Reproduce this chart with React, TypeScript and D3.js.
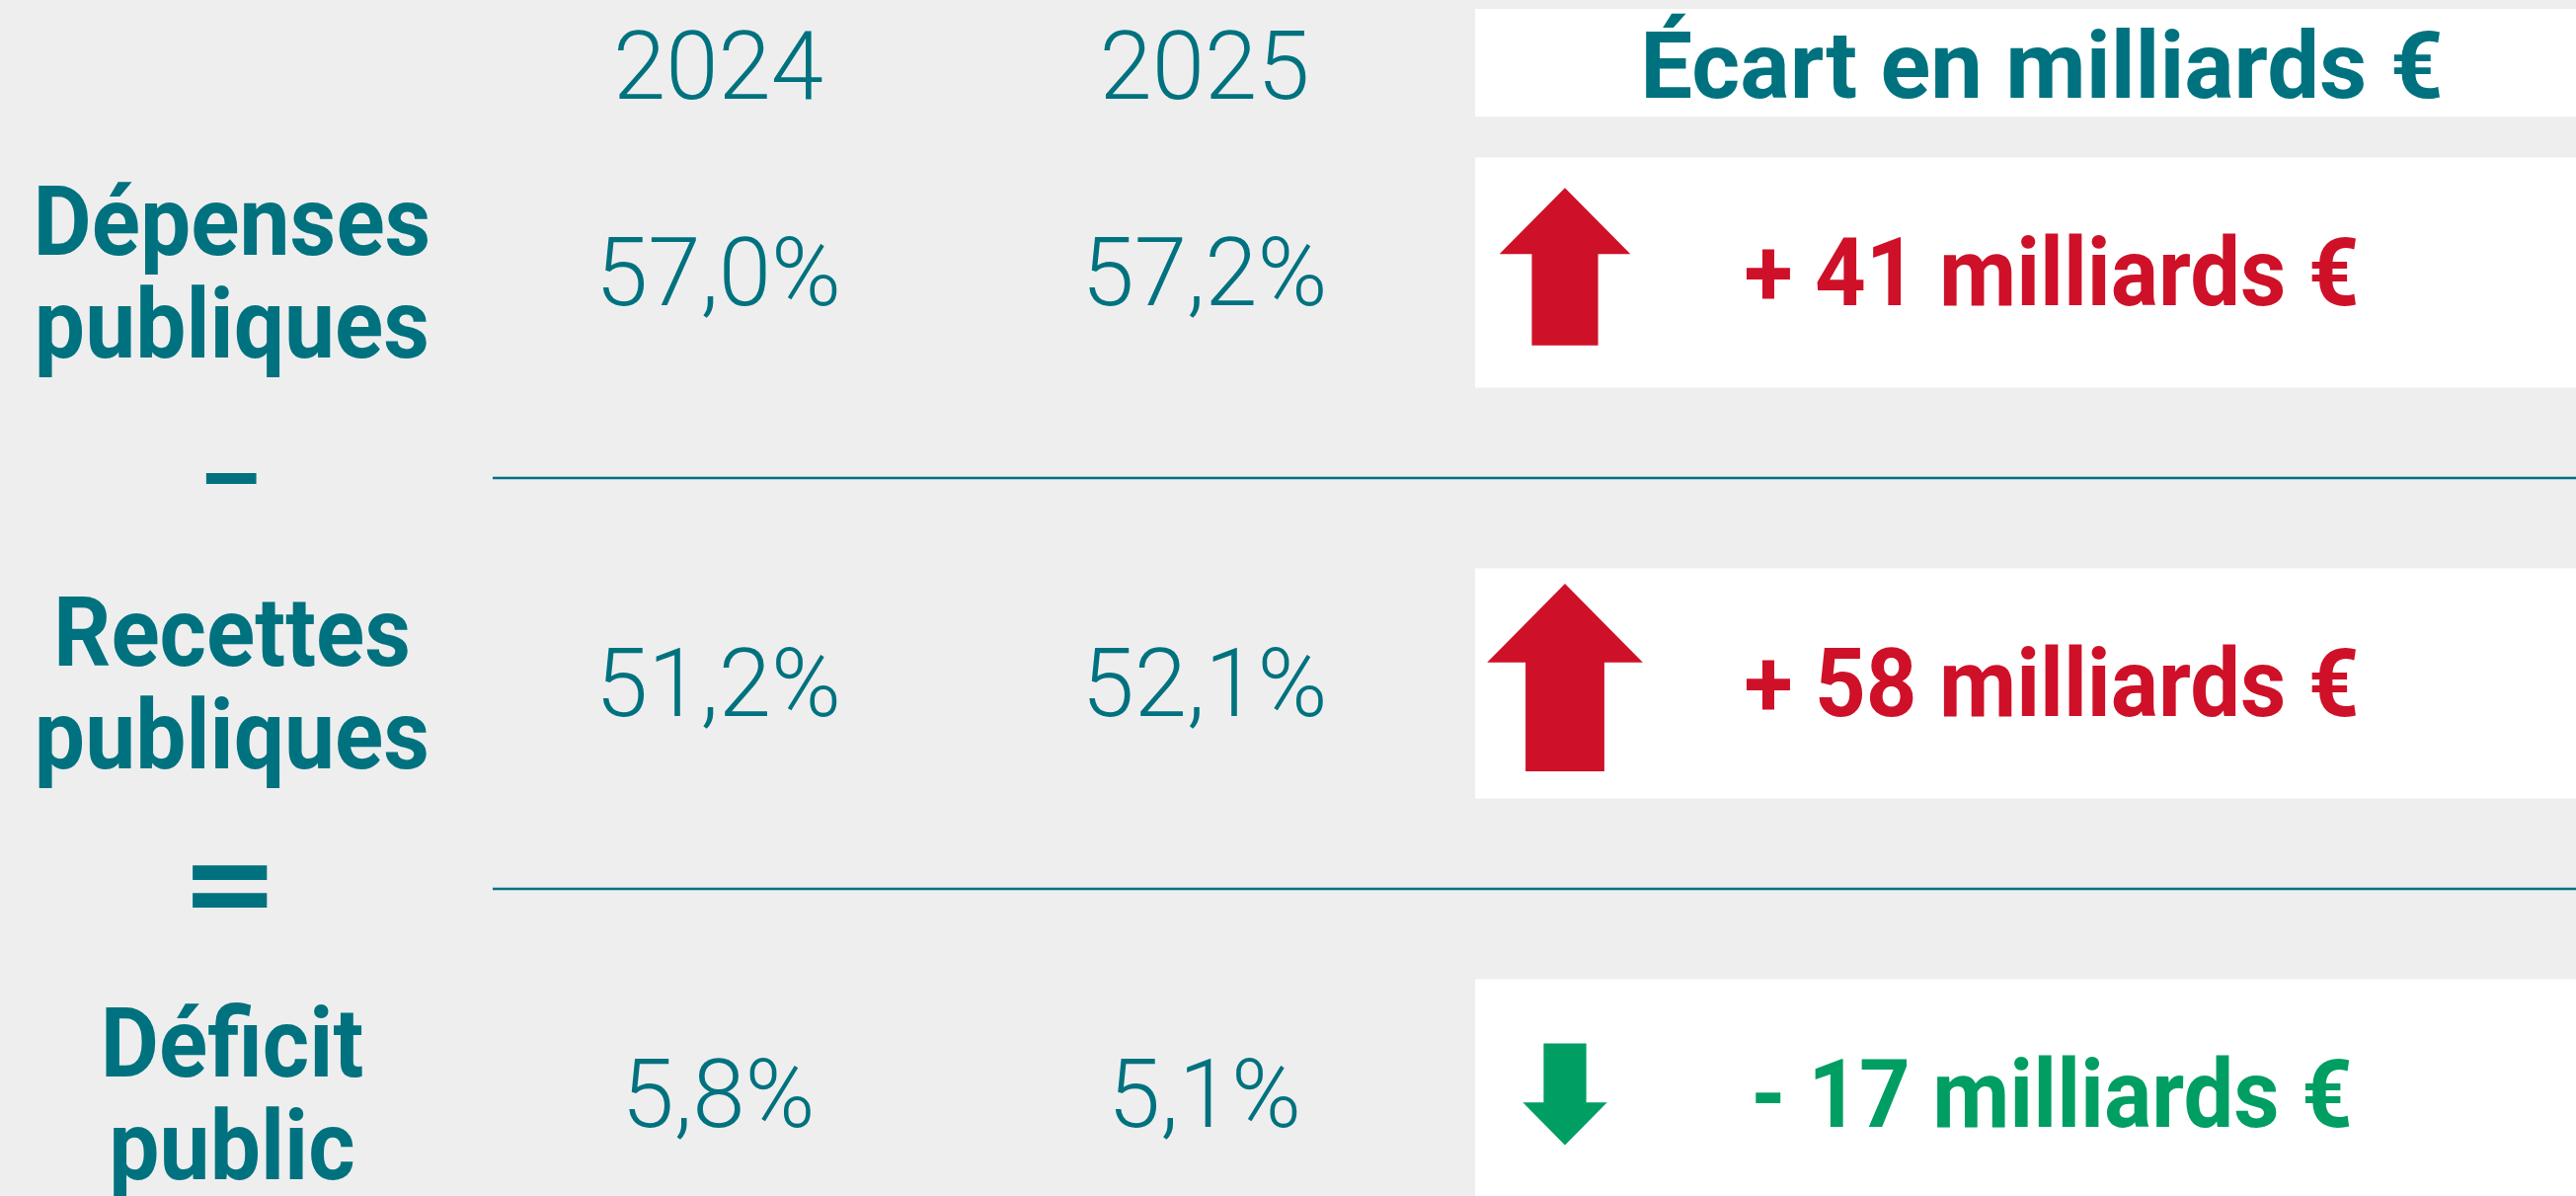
import React, { useEffect, useRef } from "react";
import * as d3 from "d3";

// données du tableau
const years = ["2024", "2025"];
const rowLabels = [
  ["Dépenses", "publiques"],
  ["Recettes", "publiques"],
  ["Déficit", "public"],
];
const values2024 = [57.0, 51.2, 5.8];
const values2025 = [57.2, 52.1, 5.1];
const ecartMds = [41, 58, -17];
const operators = ["–", "="];
const ecartTitle = "Écart en milliards €";

const TEAL = "#00727f";
const RED = "#ce1128";
const GREEN = "#009e63";
const BG = "#eeeeee";

const App = () => {
  const ref = useRef(null);
  const width = 2609;
  const height = 1211;

  useEffect(() => {
    document.body.style.margin = "0";
    document.body.style.overflow = "hidden";

    const svg = d3.select(ref.current);
    svg.selectAll("*").remove();

    svg.append("rect")
      .attr("width", width)
      .attr("height", height)
      .style("fill", BG);

    const x = d3.scalePoint().domain(["label", ...years]).range([235, 1220]);
    const y = d3.scalePoint().domain(d3.range(rowLabels.length)).range([276, 1108]);
    const panelX = 1494;
    const arrowX = 1585;
    const textX = 2078;
    const boxH = 233;

    const fr = d3.formatLocale({ decimal: ",", thousands: " ", grouping: [3], currency: ["", " €"] });
    const pct = d => fr.format(".1f")(d) + "%";

    const arrowLen = d3.scaleSqrt().domain([0, 58]).range([0, 190]);

    const font = "Roboto, 'Noto Sans', sans-serif";

    // en-tête
    svg.selectAll(".year")
      .data(years)
      .enter()
      .append("text")
      .attr("class", "year")
      .attr("x", d => x(d))
      .attr("y", 100)
      .attr("text-anchor", "middle")
      .style("font-family", font)
      .style("font-weight", 300)
      .style("font-size", "96px")
      .style("fill", TEAL)
      .text(d => d);

    svg.append("rect")
      .attr("x", panelX)
      .attr("y", 9)
      .attr("width", width - panelX)
      .attr("height", 109)
      .style("fill", "white");

    svg.append("text")
      .attr("x", textX - 10)
      .attr("y", 99)
      .attr("text-anchor", "middle")
      .style("font-family", font)
      .style("font-weight", 700)
      .style("font-size", "94px")
      .style("fill", TEAL)
      .text(ecartTitle);

    // séparateurs + opérateurs
    operators.forEach((op, i) => {
      const mid = (y(i) + y(i + 1)) / 2;
      svg.append("line")
        .attr("x1", 499)
        .attr("x2", width)
        .attr("y1", mid)
        .attr("y2", mid)
        .style("stroke", TEAL)
        .style("stroke-width", "2.5px");

      svg.append("g")
        .attr("transform", `translate(233,${mid + (op === "=" ? 40 : 36)}) scale(${op === "=" ? 1.3 : 1},1)`)
        .append("text")
        .attr("text-anchor", "middle")
        .style("font-family", font)
        .style("font-weight", 700)
        .style("font-size", op === "=" ? "132px" : "100px")
        .style("fill", TEAL)
        .text(op);
    });

    const arrowPath = (cx, cy, v) => {
      const L = arrowLen(Math.abs(v));
      const s = v >= 0 ? 1 : -1;
      const h = 0.42 * L, hw = 0.83 * L / 2, sw = 0.42 * L / 2;
      const t = cy - s * L / 2;
      const pts = [
        [cx, t],
        [cx + hw, t + s * h],
        [cx + sw, t + s * h],
        [cx + sw, cy + s * L / 2],
        [cx - sw, cy + s * L / 2],
        [cx - sw, t + s * h],
        [cx - hw, t + s * h],
      ];
      return d3.line()(pts) + "Z";
    };

    rowLabels.forEach((lines, i) => {
      const cy = y(i);

      const lbl = svg.append("g")
        .attr("transform", `translate(${x("label")},0) scale(0.93,1)`)
        .append("text")
        .attr("text-anchor", "middle")
        .style("font-family", font)
        .style("font-weight", 700)
        .style("font-size", "98px")
        .style("fill", TEAL);
      lbl.append("tspan").attr("x", 0).attr("y", cy - 18).text(lines[0]);
      lbl.append("tspan").attr("x", 0).attr("y", cy + 86).text(lines[1]);

      [values2024, values2025].forEach((vals, j) => {
        svg.append("text")
          .attr("x", x(years[j]))
          .attr("y", cy + 33)
          .attr("text-anchor", "middle")
          .style("font-family", font)
          .style("font-weight", 300)
          .style("font-size", "96px")
          .style("fill", TEAL)
          .text(pct(vals[i]));
      });

      svg.append("rect")
        .attr("x", panelX)
        .attr("y", cy - boxH / 2)
        .attr("width", width - panelX)
        .attr("height", boxH)
        .style("fill", "white");

      const v = ecartMds[i];
      const col = v >= 0 ? RED : GREEN;

      svg.append("path")
        .attr("d", arrowPath(arrowX, cy - (v >= 0 ? 6 : 0), v))
        .style("fill", col);

      svg.append("g")
        .attr("transform", `translate(${textX},${cy + 33}) scale(0.94,1)`)
        .append("text")
        .attr("text-anchor", "middle")
        .style("font-family", font)
        .style("font-weight", 700)
        .style("font-size", "96px")
        .style("fill", col)
        .text((v >= 0 ? "+ " : "- ") + Math.abs(v) + " milliards €");
    });
  }, []);

  return <svg ref={ref} width={width} height={height} style={{ display: "block" }} />;
};

export default App;
